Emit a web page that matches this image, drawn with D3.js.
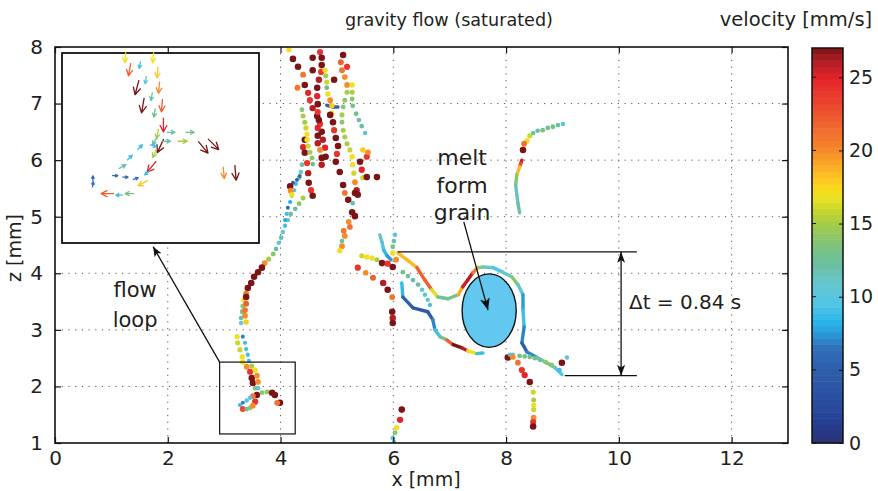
<!DOCTYPE html>
<html>
<head>
<meta charset="utf-8">
<script src="https://cdn.jsdelivr.net/npm/d3@7/dist/d3.min.js"></script>
<style>
  body { margin: 0; background: #fff; }
  svg text { font-family: "DejaVu Sans", "Open Sans", sans-serif; fill: #231f20; }
</style>
</head>
<body>
<script>
'use strict';
// ---- data ----------------------------------------------------------------
var xTicks  = [0, 2, 4, 6, 8, 10, 12];
var zTicks  = [1, 2, 3, 4, 5, 6, 7, 8];
var cbTicks = [0, 5, 10, 15, 20, 25];
var vMax    = 27;

// tracer tracks: [x mm, z mm, velocity mm/s]
var trackA = [[6.08,4.36,20],[6.24,4.24,17],[6.42,4.10,20],[6.56,3.88,24],[6.68,3.71,20],[6.79,3.58,13],
  [6.97,3.55,12],[7.15,3.62,14],[7.23,3.76,24],[7.32,3.88,27],[7.41,4.01,25],[7.50,4.10,17],[7.59,4.11,12],
  [7.77,4.10,10],[7.94,4.02,9],[8.10,3.94,13],[8.21,3.80,15],[8.30,3.62,6],[8.30,3.35,9],[8.32,3.05,9],
  [8.28,2.77,5],[8.37,2.61,5],[8.55,2.51,9],[8.72,2.42,12],[8.87,2.33,14],[8.99,2.21,5]];
var trackB = [[6.15,3.83,12],[6.17,3.58,5],[6.35,3.39,5],[6.61,3.32,4],[6.70,3.18,5],[6.74,3.00,9],
  [6.83,2.88,9],[6.95,2.82,17],[7.06,2.74,27],[7.22,2.68,27],[7.32,2.63,25],[7.48,2.58,9],[7.59,2.59,9]];
var trackC = [[5.76,4.68,12],[5.80,4.55,10],[5.83,4.41,9],[5.89,4.31,8],[5.96,4.24,7]];
var trackD = [[6.03,4.68,10],[6.01,4.57,12],[5.99,4.47,13],[5.99,4.36,17],[6.05,4.24,20],[6.17,4.02,13],
  [6.26,3.95,12],[6.35,3.88,12],[6.44,3.80,12],[6.51,3.71,11],[6.56,3.62,11],[6.61,3.53,10],[6.65,3.44,9]];
var trackE = [[5.37,4.10,24],[5.51,4.01,20],[5.64,3.92,22],[5.82,3.83,26],[5.90,3.71,27],[5.98,3.58,21],
  [5.98,3.32,27],[5.99,3.21,26],[5.99,3.12,27]];
var trackF = [[5.44,4.31,16],[5.53,4.29,17],[5.62,4.27,17],[5.71,4.24,15],[5.80,4.18,27],[5.90,4.17,24],[5.99,4.11,27]];
var trackG = [[8.03,2.51,27],[8.12,2.56,10],[8.24,2.54,13],[8.33,2.53,13],[8.42,2.52,13],[8.51,2.50,13],
  [8.60,2.47,13],[8.70,2.43,14],[8.81,2.38,14],[8.95,2.29,9],[8.99,2.42,27],[9.08,2.51,10]];
var trackH = [[8.07,2.56,10],[8.12,2.52,20],[8.21,2.42,21],[8.28,2.29,24],[8.33,2.20,25],[8.42,2.08,27],
  [8.48,1.90,16],[8.49,1.76,15],[8.49,1.67,17],[8.49,1.59,16],[8.49,1.45,20],[8.48,1.37,24],[8.48,1.29,27]];
var trackI = [[6.15,1.59,27],[6.12,1.41,25],[6.06,1.27,17],[6.03,1.18,14],[5.99,1.09,11],[6.01,1.02,10]];
var trackJ1 = [[9.01,6.64,10],[8.92,6.62,12],[8.83,6.59,13],[8.74,6.57,13],[8.65,6.53,13],[8.56,6.52,12],
  [8.48,6.48,12],[8.42,6.43,16],[8.37,6.34,17],[8.32,6.29,21],[8.30,6.18,27]];
var trackJ2 = [[8.28,6.00,27],[8.26,5.94,24],[8.24,5.88,22],[8.19,5.74,15],[8.17,5.56,13],[8.19,5.39,10],
  [8.21,5.24,13],[8.24,5.07,11]];
var trackK1 = [[4.15,7.95,17],[4.22,7.79,27],[4.31,7.65,27],[4.40,7.51,21],[4.43,7.33,27],[4.49,7.19,25],
  [4.52,7.06,24],[4.57,6.92,26],[4.65,6.78,27],[4.70,6.64,24],[4.73,6.50,27],[4.75,6.36,26],[4.79,6.22,25],[4.80,6.06,27]];
var trackK1b = [[4.43,6.36,27],[4.40,6.23,25],[4.43,6.13,27],[4.47,5.95,24],[4.49,5.77,26],[4.50,5.60,27],
  [4.54,5.47,24],[4.57,5.37,27]];
var trackK2 = [[4.38,6.89,14],[4.40,6.78,15],[4.43,6.67,15],[4.45,6.57,16],[4.47,6.46,17],[4.47,6.36,17],
  [4.49,6.25,16],[4.52,6.14,15],[4.56,6.04,14],[4.57,5.93,13]];
var trackK3 = [[4.70,7.91,24],[4.73,7.81,27],[4.73,7.68,27],[4.72,7.56,24],[4.68,7.42,26],[4.65,7.28,27],
  [4.65,7.13,25],[4.66,6.99,27],[4.66,6.85,24],[4.68,6.71,27],[4.66,6.57,25],[4.66,6.43,27],[4.66,6.30,26],
  [4.70,6.18,20],[4.73,6.04,27],[4.73,5.92,26]];
var trackK4 = [[4.79,7.59,17],[4.80,7.49,15],[4.82,7.38,16],[4.82,7.28,13],[4.84,7.17,17],[4.88,7.06,20],
  [4.91,6.96,18],[4.91,6.83,17]];
var trackK5 = [[5.11,7.86,27],[5.07,7.73,22],[5.09,7.59,21],[5.14,7.47,20],[5.18,7.33,20],[5.18,7.20,15],
  [5.14,7.06,14],[5.11,6.94,14],[5.09,6.80,15],[5.09,6.67,14],[5.11,6.53,15],[5.14,6.41,15],[5.18,6.29,15],
  [5.23,6.18,16],[5.27,6.06,17],[5.28,5.92,17],[5.30,5.77,16],[5.32,5.61,20],[5.35,5.47,26],[5.37,5.39,27]];
var trackK6 = [[5.27,7.33,17],[5.27,7.20,15],[5.27,7.08,14],[5.28,6.96,13],[5.34,6.82,13],[5.39,6.71,12],
  [5.44,6.60,12],[5.50,6.48,10]];
var trackK7 = [[4.57,7.81,27],[4.57,7.59,27],[5.18,7.65,24],[4.30,7.28,21],[4.95,7.42,27]];
var trackK8 = [[5.46,6.18,18],[5.41,5.97,27],[5.44,5.83,25],[5.53,6.06,24],[5.55,6.14,20],[5.46,5.69,16],
  [5.53,5.70,27],[5.71,5.70,27],[5.32,5.42,27]];
var trackK9 = [[4.88,6.80,27],[4.93,6.67,27],[4.95,6.53,24],[4.98,6.39,27],[5.02,6.25,27],[5.00,6.11,24],
  [4.98,5.97,27],[5.05,5.79,27],[5.11,5.56,27],[5.14,5.42,21],[5.20,5.30,27]];
var trackK10 = [[5.28,5.24,12],[5.27,5.08,27],[5.32,5.01,27],[5.21,4.91,20],[5.23,4.82,21],[5.12,4.75,21],
  [5.14,4.66,20],[5.09,4.57,12],[5.09,4.48,20],[5.05,4.40,17]];
var trackK11 = [[4.82,6.97,5],[4.93,6.94,5],[5.02,6.94,6]];
var trackM1 = [[4.40,5.33,15],[4.33,5.23,14],[4.26,5.14,12],[4.18,5.05,12],[4.13,4.94,10],[4.08,4.84,9],
  [4.04,4.73,11],[4.01,4.63,12],[3.97,4.54,11],[3.92,4.43,12],[3.87,4.34,14],[3.79,4.25,15],[3.72,4.18,20],
  [3.67,4.10,27],[3.60,4.02,27],[3.53,3.94,27],[3.48,3.83,27],[3.42,3.74,27],[3.39,3.64,21],[3.35,3.53,17],
  [3.33,3.42,14],[3.32,3.32,13],[3.30,3.21,12],[3.30,3.12,11]];
var trackM2 = [[3.39,3.58,27],[3.39,3.46,22],[3.37,3.35,21],[3.37,3.25,20],[3.39,3.14,18]];
var trackM3 = [[4.38,5.92,12],[4.36,5.79,11],[4.33,5.69,12],[4.27,5.58,9],[4.24,5.47,10],[4.20,5.37,9],
  [4.17,5.26,8],[4.13,5.16,6],[4.11,5.05,9],[4.08,4.94,8]];
var trackM4 = [[4.34,5.72,6],[4.29,5.65,5],[4.22,5.60,5],[4.17,5.54,27],[4.18,5.46,20],[4.20,5.39,17]];
var trackN1 = [[3.23,2.88,17],[3.24,2.77,16],[3.28,2.65,16],[3.32,2.52,17],[3.33,2.43,17],[3.40,2.35,20],
  [3.46,2.26,24],[3.49,2.15,27],[3.51,2.06,27],[3.55,1.97,14],[3.58,1.85,27],[3.55,1.73,24]];
var trackN2 = [[3.33,2.88,7],[3.37,2.77,9],[3.39,2.66,9],[3.42,2.56,9],[3.44,2.45,9],[3.49,2.36,15],
  [3.55,2.29,17],[3.58,2.19,20],[3.60,2.08,20],[3.60,1.97,11],[3.67,1.89,14],[3.76,1.90,14],[3.85,1.89,27],
  [3.90,1.85,27],[3.99,1.71,27],[3.94,1.71,21]];
var trackN3 = [[3.51,1.83,21],[3.46,1.80,10],[3.40,1.75,10],[3.33,1.71,7],[3.28,1.67,9],[3.33,1.60,23],
  [3.40,1.60,12],[3.46,1.62,14],[3.51,1.66,20]];

var dotTracks  = [trackD, trackE, trackF, trackG, trackH, trackI, trackJ1, trackK1, trackK1b, trackK2, trackK3,
  trackK4, trackK5, trackK6, trackK7, trackK8, trackK9, trackK10, trackM1, trackM2, trackM3, trackM4,
  trackN1, trackN2, trackN3];
var lineTracks = [trackA, trackB, trackC, trackJ2, trackK11];

// zoom box shown in the inset: [x0, x1], [z0, z1]
var zoomBoxX = [2.92, 4.26];
var zoomBoxZ = [1.16, 2.43];
// inset quiver arrows: [x, z, screen angle deg, velocity]
var insetArrows = [
  [3.35,2.40,95,17],[3.38,2.32,100,22],[3.43,2.20,105,27],[3.47,2.08,100,27],
  [3.45,2.35,100,9],[3.49,2.25,100,11],[3.53,2.14,100,12],[3.55,2.03,100,13],
  [3.54,2.40,95,17],[3.57,2.30,95,18],[3.58,2.20,95,20],[3.60,2.08,95,22],[3.61,1.95,90,25],
  [3.57,1.89,100,15],[3.55,1.84,120,12],[3.59,1.81,115,27],[3.55,1.76,115,15],[3.54,1.81,20,9],
  [3.66,1.90,0,12],[3.79,1.90,0,13],[3.74,1.84,0,15],[3.63,1.84,0,12],
  [3.95,1.82,45,27],[3.88,1.80,50,27],[4.02,1.63,85,20],[4.10,1.63,85,27],
  [3.45,1.80,315,9],[3.38,1.73,315,9],[3.33,1.67,330,12],[3.28,1.61,0,6],[3.35,1.60,0,6],[3.42,1.59,340,6],
  [3.13,1.59,270,6],[3.13,1.55,280,6],[3.47,1.56,150,18],[3.53,1.67,130,25],[3.50,1.63,140,9],
  [3.38,1.49,180,13],[3.31,1.48,180,9],[3.23,1.49,180,22]];

// colormap (velocity -> colour)
var cmapStops  = [0,1.5,3,5,6.5,7.5,8.3,9.5,11,12,13,14,15,16,16.8,17.5,18.3,19.2,20,21,22,23,24,25,26,27];
var cmapColors = ['#2b3274','#253f93','#2a4fa0','#2e5fac','#3070b8','#2a9ad8','#29b6ea','#52c4e6','#66c6cc',
  '#6bbfa8','#75c18c','#8ac66c','#a6cc48','#cbd72c','#ebe321','#fbd71f','#fcc022','#f9a427','#f68b2a',
  '#f2742d','#ef5f2f','#ec4a2f','#e8342c','#e2232a','#b51d24','#7b1416'];

// ---- setup ---------------------------------------------------------------
var width = 878, height = 491;
var color = d3.scaleLinear().domain(cmapStops).range(cmapColors).clamp(true);

var x = d3.scaleLinear().domain([0, 13]).range([55, 788]);
var z = d3.scaleLinear().domain([1, 8]).range([443, 47]);
var cbY = d3.scaleLinear().domain([0, vMax]).range([443, 48]);
var insetX = d3.scaleLinear().domain(zoomBoxX).range([62, 259]);
var insetZ = d3.scaleLinear().domain(zoomBoxZ).range([243, 53]);

var svg = d3.select('body').append('svg')
    .attr('width', width)
    .attr('height', height);

var defs = svg.append('defs');
defs.append('clipPath').attr('id', 'plotclip')
  .append('rect')
    .attr('x', x(0)).attr('y', z(8))
    .attr('width', x(13) - x(0)).attr('height', z(1) - z(8));

// grid
var grid = svg.append('g');
grid.selectAll('line.gx').data(xTicks.filter(function(d) { return d > 0; }))
  .enter().append('line')
    .attr('x1', function(d) { return x(d); }).attr('x2', function(d) { return x(d); })
    .attr('y1', z(1)).attr('y2', z(8))
    .attr('stroke', '#555').attr('stroke-width', 1).attr('stroke-dasharray', '1.2,5.5');
grid.selectAll('line.gz').data(zTicks.filter(function(d) { return d > 1 && d < 8; }))
  .enter().append('line')
    .attr('y1', function(d) { return z(d); }).attr('y2', function(d) { return z(d); })
    .attr('x1', x(0)).attr('x2', x(13))
    .attr('stroke', '#555').attr('stroke-width', 1).attr('stroke-dasharray', '1.2,5.5');

// tracks
var marks = svg.append('g').attr('clip-path', 'url(#plotclip)');

lineTracks.forEach(function(track) {
  var segs = d3.pairs(track);
  marks.append('g').selectAll('line').data(segs).enter().append('line')
      .attr('x1', function(d) { return x(d[0][0]); })
      .attr('y1', function(d) { return z(d[0][1]); })
      .attr('x2', function(d) { return x(d[1][0]); })
      .attr('y2', function(d) { return z(d[1][1]); })
      .attr('stroke', function(d) { return color((d[0][2] + d[1][2]) / 2); })
      .attr('stroke-width', 3.4)
      .attr('stroke-linecap', 'round');
});

dotTracks.forEach(function(track) {
  marks.append('g').selectAll('circle').data(track).enter().append('circle')
      .attr('cx', function(d) { return x(d[0]); })
      .attr('cy', function(d) { return z(d[1]); })
      .attr('r', function(d) { return 1.6 + d[2] * 0.062; })
      .attr('fill', function(d) { return color(d[2]); });
});

// grain
svg.append('ellipse')
    .attr('cx', x(7.70)).attr('cy', z(3.34))
    .attr('rx', x(0.48) - x(0)).attr('ry', z(1) - z(1.65))
    .attr('fill', '#62c8ef').attr('stroke', '#111').attr('stroke-width', 1.4);

// arrow helper
function arrow(g, x1, y1, x2, y2, len, wid, both) {
  g.append('line').attr('x1', x1).attr('y1', y1).attr('x2', x2).attr('y2', y2)
      .attr('stroke', '#111').attr('stroke-width', 1.3);
  function head(ax, ay, bx, by) {
    var a = Math.atan2(by - ay, bx - ax);
    var c = Math.cos(a), s = Math.sin(a);
    var p = [[bx, by],
      [bx - len * c - wid / 2 * s, by - len * s + wid / 2 * c],
      [bx - len * 0.75 * c, by - len * 0.75 * s],
      [bx - len * c + wid / 2 * s, by - len * s - wid / 2 * c]];
    g.append('path').attr('d', 'M' + p.join('L') + 'Z').attr('fill', '#111');
  }
  head(x1, y1, x2, y2);
  if (both) head(x2, y2, x1, y1);
}

var ann = svg.append('g');
// zoom box + pointer to inset
ann.append('rect')
    .attr('x', x(zoomBoxX[0])).attr('y', z(zoomBoxZ[1]))
    .attr('width', x(zoomBoxX[1]) - x(zoomBoxX[0])).attr('height', z(zoomBoxZ[0]) - z(zoomBoxZ[1]))
    .attr('fill', 'none').attr('stroke', '#111').attr('stroke-width', 1.2);
arrow(ann, x(zoomBoxX[0]), z(zoomBoxZ[1]), x(1.74), z(4.47), 10, 8);

// melt-form-grain pointer
arrow(ann, x(7.25), z(4.91), x(7.68), z(3.35), 12, 10);

// delta t bracket
ann.append('line').attr('x1', x(6.08)).attr('x2', x(10.32)).attr('y1', z(4.38)).attr('y2', z(4.38))
    .attr('stroke', '#111').attr('stroke-width', 1.3);
ann.append('line').attr('x1', x(9.04)).attr('x2', x(10.32)).attr('y1', z(2.19)).attr('y2', z(2.19))
    .attr('stroke', '#111').attr('stroke-width', 1.3);
arrow(ann, x(10.04), z(4.38), x(10.04), z(2.19), 11, 8, true);

ann.append('text').attr('x', x(10.18)).attr('y', z(3.37))
    .attr('font-size', 20).text('\u0394t = 0.84 s');
[['melt', 5.91], ['form', 5.42], ['grain', 4.94]].forEach(function(d) {
  ann.append('text').attr('x', x(7.22)).attr('y', z(d[1]))
      .attr('text-anchor', 'middle').attr('font-size', 22).text(d[0]);
});
[['flow', 3.58], ['loop', 3.05]].forEach(function(d) {
  ann.append('text').attr('x', x(1.42)).attr('y', z(d[1]))
      .attr('text-anchor', 'middle').attr('font-size', 21).text(d[0]);
});

// inset
var inset = svg.append('g');
inset.append('rect')
    .attr('x', 62).attr('y', 53).attr('width', 197).attr('height', 190)
    .attr('fill', '#fff').attr('stroke', '#111').attr('stroke-width', 1.8);
insetArrows.forEach(function(d) {
  var len = 3 + d[3] * 0.45;
  var a = d[2] * Math.PI / 180, c = Math.cos(a), s = Math.sin(a);
  var cx = insetX(d[0]), cy = insetZ(d[1]);
  var tx = cx + c * len / 2, ty = cy + s * len / 2;
  var hl = len * 0.55, ha = 27 * Math.PI / 180;
  var p = 'M' + (cx - c * len / 2) + ',' + (cy - s * len / 2) + 'L' + tx + ',' + ty +
    'M' + (tx - hl * Math.cos(a - ha)) + ',' + (ty - hl * Math.sin(a - ha)) + 'L' + tx + ',' + ty +
    'L' + (tx - hl * Math.cos(a + ha)) + ',' + (ty - hl * Math.sin(a + ha));
  inset.append('path').attr('d', p).attr('fill', 'none')
      .attr('stroke', color(d[3])).attr('stroke-width', 1.3).attr('stroke-linejoin', 'round');
});

// axes (ticks inward on all four sides)
var fmt = d3.format('d');
var axB = svg.append('g').attr('transform', 'translate(0,' + z(1) + ')')
    .call(d3.axisBottom(x).tickValues(xTicks).tickFormat(fmt).tickSize(-6).tickPadding(8));
var axT = svg.append('g').attr('transform', 'translate(0,' + z(8) + ')')
    .call(d3.axisTop(x).tickValues(xTicks).tickSize(-6).tickFormat(''));
var axL = svg.append('g').attr('transform', 'translate(' + x(0) + ',0)')
    .call(d3.axisLeft(z).tickValues(zTicks).tickFormat(fmt).tickSize(-6).tickPadding(12));
var axR = svg.append('g').attr('transform', 'translate(' + x(13) + ',0)')
    .call(d3.axisRight(z).tickValues(zTicks).tickSize(-6).tickFormat(''));
[axB, axT, axL, axR].forEach(function(a) {
  a.select('.domain').remove();
  a.selectAll('line').attr('stroke', '#111').attr('stroke-width', 1.2);
  a.selectAll('text').attr('font-size', 20).attr('font-family', null).attr('fill', '#231f20');
});
svg.append('rect')
    .attr('x', x(0)).attr('y', z(8)).attr('width', x(13) - x(0)).attr('height', z(1) - z(8))
    .attr('fill', 'none').attr('stroke', '#111').attr('stroke-width', 1.6);

// titles
svg.append('text').attr('x', 449).attr('y', 26).attr('text-anchor', 'middle')
    .attr('font-size', 17.6).text('gravity flow (saturated)');
svg.append('text').attr('x', 426).attr('y', 486).attr('text-anchor', 'middle')
    .attr('font-size', 19).text('x [mm]');
svg.append('text').attr('transform', 'translate(21,248) rotate(-90)')
    .attr('text-anchor', 'middle').attr('font-size', 19).text('z [mm]');
svg.append('text').attr('x', 796).attr('y', 26).attr('text-anchor', 'middle')
    .attr('font-size', 19.5).text('velocity [mm/s]');

// colorbar
var cb = svg.append('g');
var nBands = 64, cbX0 = 812, cbW = 31;
cb.selectAll('rect.band').data(d3.range(nBands)).enter().append('rect')
    .attr('x', cbX0)
    .attr('y', function(i) { return cbY((i + 1) * vMax / nBands); })
    .attr('width', cbW)
    .attr('height', function(i) { return cbY(i * vMax / nBands) - cbY((i + 1) * vMax / nBands) + 0.5; })
    .attr('fill', function(i) { return color((i + 0.5) * vMax / nBands); });
var cbAxis = cb.append('g').attr('transform', 'translate(' + (cbX0 + cbW) + ',0)')
    .call(d3.axisRight(cbY).tickValues(cbTicks).tickSize(-4).tickPadding(6));
cbAxis.select('.domain').remove();
cbAxis.selectAll('line').attr('stroke', '#111');
cbAxis.selectAll('text').attr('font-size', 19).attr('font-family', null).attr('fill', '#231f20');
cb.selectAll('line.lt').data(cbTicks).enter().append('line')
    .attr('x1', cbX0).attr('x2', cbX0 + 4)
    .attr('y1', function(d) { return cbY(d); }).attr('y2', function(d) { return cbY(d); })
    .attr('stroke', '#111');
cb.append('rect').attr('x', cbX0).attr('y', cbY(vMax)).attr('width', cbW).attr('height', cbY(0) - cbY(vMax))
    .attr('fill', 'none').attr('stroke', '#111').attr('stroke-width', 1.5);
</script>
</body>
</html>
